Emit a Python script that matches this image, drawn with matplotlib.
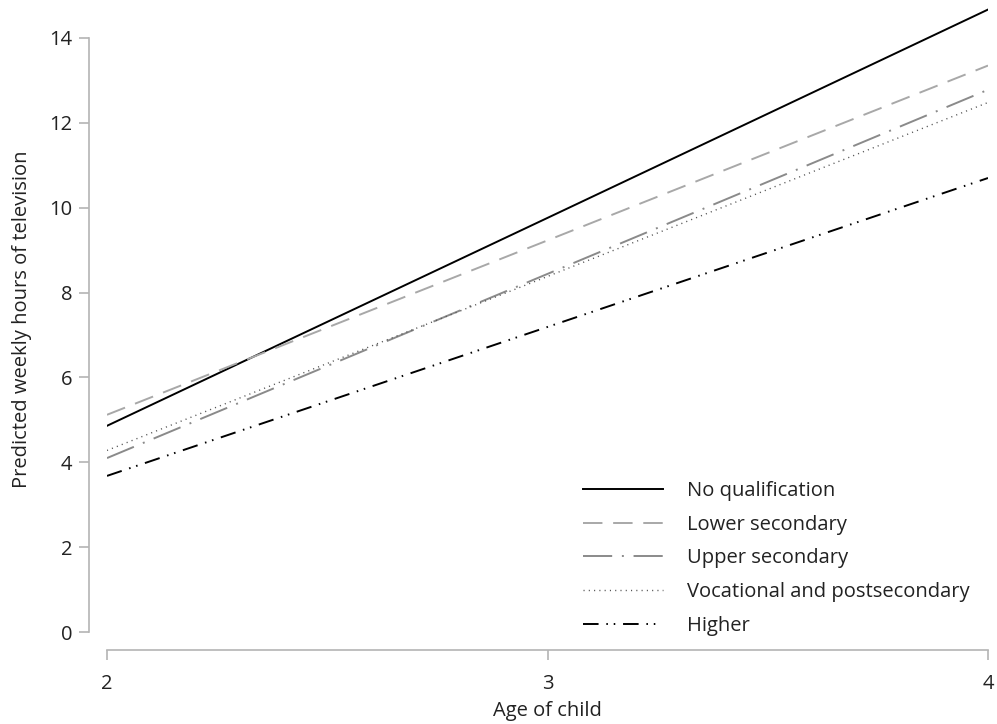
import matplotlib
matplotlib.use('Agg')
import matplotlib.pyplot as plt

plt.rcParams['font.family'] = ['Open Sans', 'DejaVu Sans']

# predicted weekly TV hours by mother's qualification
ages = [2, 3, 4]
no_qual = [4.86, 9.76, 14.67]
lower_sec = [5.12, 9.23, 13.35]
upper_sec = [4.10, 8.44, 12.78]
vocational = [4.28, 8.38, 12.48]
higher = [3.68, 7.19, 10.70]

labels = ['No qualification', 'Lower secondary', 'Upper secondary',
          'Vocational and postsecondary', 'Higher']

fig = plt.figure(figsize=(9.97, 7.24), dpi=100)
ax = fig.add_axes([0.1073, 0.127, 0.8837, 0.8645])

lw = 1.4
ax.plot(ages, no_qual, color='black', lw=lw, label=labels[0])
ax.plot(ages, lower_sec, color='#a8a8a8', lw=lw, dashes=(10, 5.5), label=labels[1])
ax.plot(ages, upper_sec, color='#8a8a8a', lw=lw, dashes=(15, 5, 1, 5), label=labels[2])
ax.plot(ages, vocational, color='#555555', lw=1.0, dashes=(0.8, 3.0), label=labels[3])
ax.plot(ages, higher, color='black', lw=lw, dashes=(8, 4, 0.8, 3, 0.8, 4), label=labels[4])

ax.set_xlim(2, 4)
ax.set_ylim(0, 14.75)
ax.set_xticks([2, 3, 4])
ax.set_yticks(range(0, 15, 2))

for side in ['top', 'right']:
    ax.spines[side].set_visible(False)
ax.spines['left'].set_position(('outward', 13))
ax.spines['bottom'].set_position(('outward', 13))
ax.spines['left'].set_bounds(0, 14)
for side in ['left', 'bottom']:
    ax.spines[side].set_color('#b4b4b4')
    ax.spines[side].set_linewidth(1.2)

ax.tick_params(axis='both', colors='#b4b4b4', labelcolor='#222222',
               length=7, width=1.2, labelsize=14.5, pad=5)
ax.tick_params(axis='x', pad=10)

ax.set_xlabel('Age of child', fontsize=14.5, color='#222222', labelpad=5)
ax.set_ylabel('Predicted weekly hours of television', fontsize=14.5,
              color='#222222', labelpad=12)

ax.legend(loc='lower right', bbox_to_anchor=(1.0, -0.035), frameon=False,
          fontsize=14.5, handlelength=4.0, handletextpad=1.2,
          labelspacing=0.68, labelcolor='#222222')

fig.savefig('out.png', dpi=100)
